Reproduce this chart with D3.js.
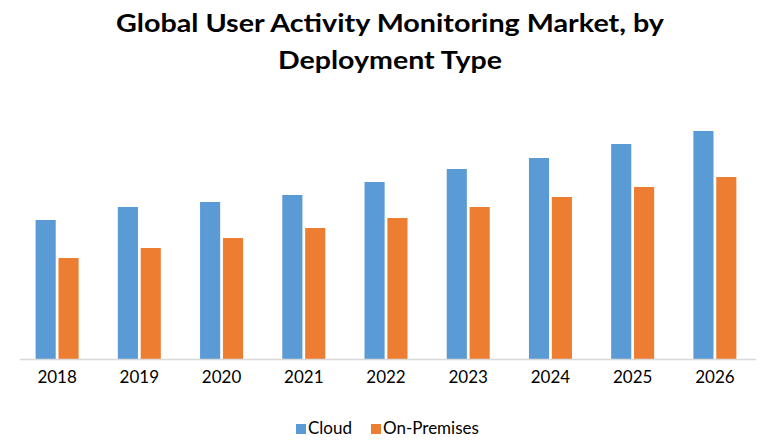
<!DOCTYPE html>
<html>
<head>
<meta charset="utf-8">
<script src="https://cdn.jsdelivr.net/npm/d3@7"></script>
<style>
  body { margin: 0; background: #fff; }
  text { font-family: Lato, "Open Sans", sans-serif; fill: #000; }
</style>
</head>
<body>
<div id="chart"></div>
<script>
const FRAME_WIDTH = 780;
const FRAME_HEIGHT = 440;
const MARGINS = { left: 16, right: 24, top: 109, bottom: 81 };

// data (no y axis in the original, arbitrary units)
const YEARS = ["2018", "2019", "2020", "2021", "2022", "2023", "2024", "2025", "2026"];
const CLOUD = [139, 152, 157, 164, 177, 190, 201, 215, 228];
const ON_PREMISES = [101, 111, 121, 131, 141, 152, 162, 172, 182];
const SERIES_NAMES = ["Cloud", "On-Premises"];
const COLORS = ["#5B9BD5", "#ED7D31"];
const TITLE_LINES = ["Global User Activity Monitoring Market, by", "Deployment Type"];
const TITLE_WIDTHS = [548, 224];

const VIS_WIDTH = FRAME_WIDTH - MARGINS.left - MARGINS.right;
const VIS_HEIGHT = FRAME_HEIGHT - MARGINS.top - MARGINS.bottom;

const svg = d3.select("#chart")
  .append("svg")
  .attr("width", FRAME_WIDTH)
  .attr("height", FRAME_HEIGHT);

// title (stretched a bit to match the wider original font)
svg.selectAll(".title")
  .data(TITLE_LINES)
  .enter()
  .append("text")
  .attr("class", "title")
  .attr("x", 390)
  .attr("y", (d, i) => 32 + i * 36.5)
  .attr("text-anchor", "middle")
  .attr("font-size", "25px")
  .attr("font-weight", "bold")
  .attr("textLength", (d, i) => TITLE_WIDTHS[i])
  .attr("lengthAdjust", "spacingAndGlyphs")
  .text(d => d);

const X = d3.scaleBand()
  .domain(YEARS)
  .range([0, VIS_WIDTH]);

const X_SUB = d3.scaleBand()
  .domain(SERIES_NAMES)
  .range([-21.5, 21.5])
  .paddingInner(0.12);

const Y = d3.scaleLinear()
  .domain([0, 250])
  .range([VIS_HEIGHT, 0]);

const g = svg.append("g")
  .attr("transform", "translate(" + MARGINS.left + "," + MARGINS.top + ")");

const rows = YEARS.map((y, i) => ({ year: y, values: [CLOUD[i], ON_PREMISES[i]] }));

g.selectAll(".group")
  .data(rows)
  .enter()
  .append("g")
  .attr("class", "group")
  .attr("transform", d => "translate(" + (X(d.year) + X.bandwidth() / 2) + ",0)")
  .selectAll("rect")
  .data(d => d.values.map((v, k) => ({ name: SERIES_NAMES[k], value: v, k: k })))
  .enter()
  .append("rect")
  .attr("x", d => X_SUB(d.name))
  .attr("width", X_SUB.bandwidth())
  .attr("y", d => Y(d.value))
  .attr("height", d => VIS_HEIGHT - Y(d.value))
  .attr("fill", d => COLORS[d.k]);

// x axis
const xAxis = g.append("g")
  .attr("transform", "translate(0," + VIS_HEIGHT + ")")
  .call(d3.axisBottom(X).tickSize(0).tickPadding(24));
xAxis.select(".domain")
  .attr("d", "M4,0.5H740")
  .attr("stroke", "#D9D9D9")
  .attr("stroke-width", 1.5);
xAxis.selectAll("text")
  .attr("font-size", "17px")
  .attr("font-family", "Lato, sans-serif")
  .attr("fill", "#000")
  .attr("dy", "0");

// legend
const legend = svg.append("g")
  .attr("transform", "translate(296,424)");
const LEGEND_X = [0, 75];
SERIES_NAMES.forEach((name, k) => {
  legend.append("rect")
    .attr("x", LEGEND_X[k])
    .attr("y", 0)
    .attr("width", 10)
    .attr("height", 10)
    .attr("fill", COLORS[k]);
  legend.append("text")
    .attr("x", LEGEND_X[k] + 12)
    .attr("y", 10)
    .attr("font-size", "17px")
    .text(name);
});
</script>
</body>
</html>
